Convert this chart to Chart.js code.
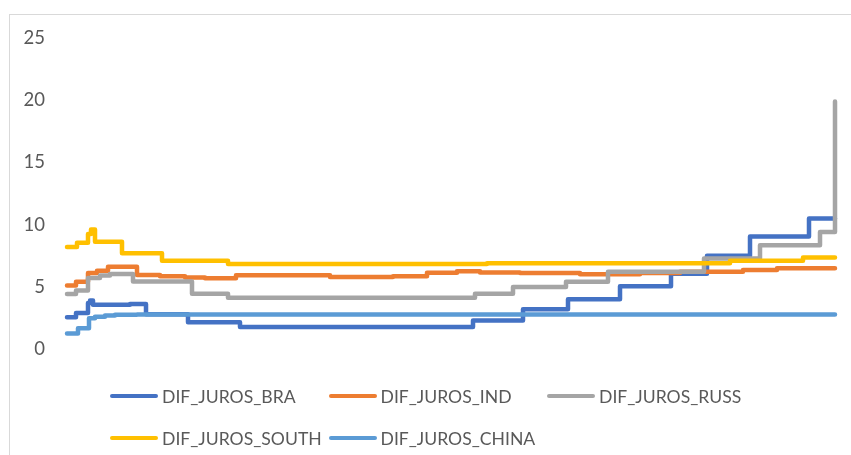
<!DOCTYPE html>
<html>
<head>
<meta charset="utf-8">
<title>DIF_JUROS</title>
<script src="https://cdn.jsdelivr.net/npm/chart.js@4.4.1/dist/chart.umd.min.js"></script>
<style>
  html, body { margin: 0; padding: 0; background: #ffffff; overflow: hidden; }
  #wrap { position: relative; width: 851px; height: 455px; overflow: hidden; }
  #frame { position: absolute; left: 9px; top: 14px; width: 900px; height: 500px;
           border: 1px solid #d9d9d9; box-sizing: border-box; }
  #chart { position: absolute; left: 0; top: 0; }
  #legend { position: absolute; left: 110px; top: 375px;
            display: grid; grid-template-columns: 218.5px 218.5px 218.5px;
            grid-auto-rows: 42px; font-family: Lato, "Open Sans", sans-serif;
            font-size: 17.6px; color: #595959; }
  .item { display: flex; align-items: center; white-space: nowrap; }
  .swatch { width: 48px; height: 4.5px; border-radius: 3px; margin-right: 4px; flex: none; }
</style>
</head>
<body>
<div id="wrap">
  <div id="frame"></div>
  <canvas id="chart" width="851" height="455"></canvas>
  <div id="legend"></div>
</div>
<script>
// Series names
const seriesNames = ['DIF_JUROS_BRA', 'DIF_JUROS_IND', 'DIF_JUROS_RUSS', 'DIF_JUROS_SOUTH', 'DIF_JUROS_CHINA'];

// Y axis tick labels
const yTicks = [0, 5, 10, 15, 20, 25];

// Each series changes value at these observation numbers (value holds until the next change)
const braObs   = [0, 9, 21, 23, 26, 63, 79, 121, 173, 406, 456, 501, 553, 604, 640, 683, 742, 768];
const braVal   = [2.55, 2.9, 3.7, 3.9, 3.55, 3.62, 2.8, 2.15, 1.77, 2.3, 3.2, 4.0, 5.05, 6.05, 7.5, 9.05, 10.5, 10.5];

const indObs   = [0, 9, 21, 30, 41, 70, 93, 118, 138, 169, 263, 326, 360, 390, 413, 453, 513, 573, 613, 676, 710, 768];
const indVal   = [5.1, 5.4, 6.1, 6.3, 6.62, 5.95, 5.85, 5.75, 5.68, 5.92, 5.78, 5.85, 6.12, 6.25, 6.15, 6.1, 6.0, 6.1, 6.2, 6.35, 6.5, 6.5];

const russObs  = [0, 9, 21, 33, 43, 66, 125, 161, 408, 446, 499, 541, 637, 693, 753, 768];
const russVal  = [4.42, 4.7, 5.7, 5.9, 6.03, 5.42, 4.45, 4.12, 4.45, 4.98, 5.4, 6.2, 7.28, 8.35, 9.4, 19.9];

const southObs = [0, 10, 21, 24, 28, 55, 95, 161, 420, 663, 736, 768];
const southVal = [8.2, 8.55, 9.25, 9.6, 8.63, 7.69, 7.1, 6.83, 6.9, 7.1, 7.35, 7.35];

const chinaObs = [0, 11, 22, 28, 38, 48, 70, 768];
const chinaVal = [1.25, 1.66, 2.47, 2.6, 2.7, 2.75, 2.78, 2.78];

const colors = ['#4472C4', '#ED7D31', '#A5A5A5', '#FFC000', '#5B9BD5'];

const obsLists = [braObs, indObs, russObs, southObs, chinaObs];
const valLists = [braVal, indVal, russVal, southVal, chinaVal];

const datasets = seriesNames.map((name, s) => ({
  label: name,
  data: obsLists[s].map((x, i) => ({ x: x, y: valLists[s][i] })),
  borderColor: colors[s],
  backgroundColor: colors[s],
  borderWidth: 4.5,
  borderCapStyle: 'round',
  borderJoinStyle: 'round',
  stepped: 'before',
  pointRadius: 0,
  pointHoverRadius: 0,
  fill: false,
  clip: 6,
  // later series are painted over earlier ones
  order: seriesNames.length - s
}));

const chart = new Chart(document.getElementById('chart'), {
  type: 'line',
  data: { datasets: datasets },
  options: {
    responsive: false,
    animation: false,
    devicePixelRatio: 1,
    layout: { padding: { left: 10, right: 13, top: 38, bottom: 106 } },
    plugins: { legend: { display: false }, tooltip: { enabled: false } },
    scales: {
      x: {
        type: 'linear',
        display: false,
        min: 0,
        max: 771
      },
      y: {
        min: 0,
        max: 25,
        afterBuildTicks: (scale) => { scale.ticks = yTicks.map(v => ({ value: v })); },
        afterFit: (scale) => { scale.width = 57; },
        grid: { display: false, drawTicks: false },
        border: { display: false },
        ticks: {
          padding: 22,
          color: '#595959',
          font: { family: 'Lato, "Open Sans", sans-serif', size: 18.5 }
        }
      }
    }
  }
});

// Legend built from the chart's datasets
const legend = document.getElementById('legend');
chart.data.datasets.forEach((ds) => {
  const item = document.createElement('div');
  item.className = 'item';
  const sw = document.createElement('span');
  sw.className = 'swatch';
  sw.style.background = ds.borderColor;
  const txt = document.createElement('span');
  txt.textContent = ds.label;
  item.appendChild(sw);
  item.appendChild(txt);
  legend.appendChild(item);
});
</script>
</body>
</html>
